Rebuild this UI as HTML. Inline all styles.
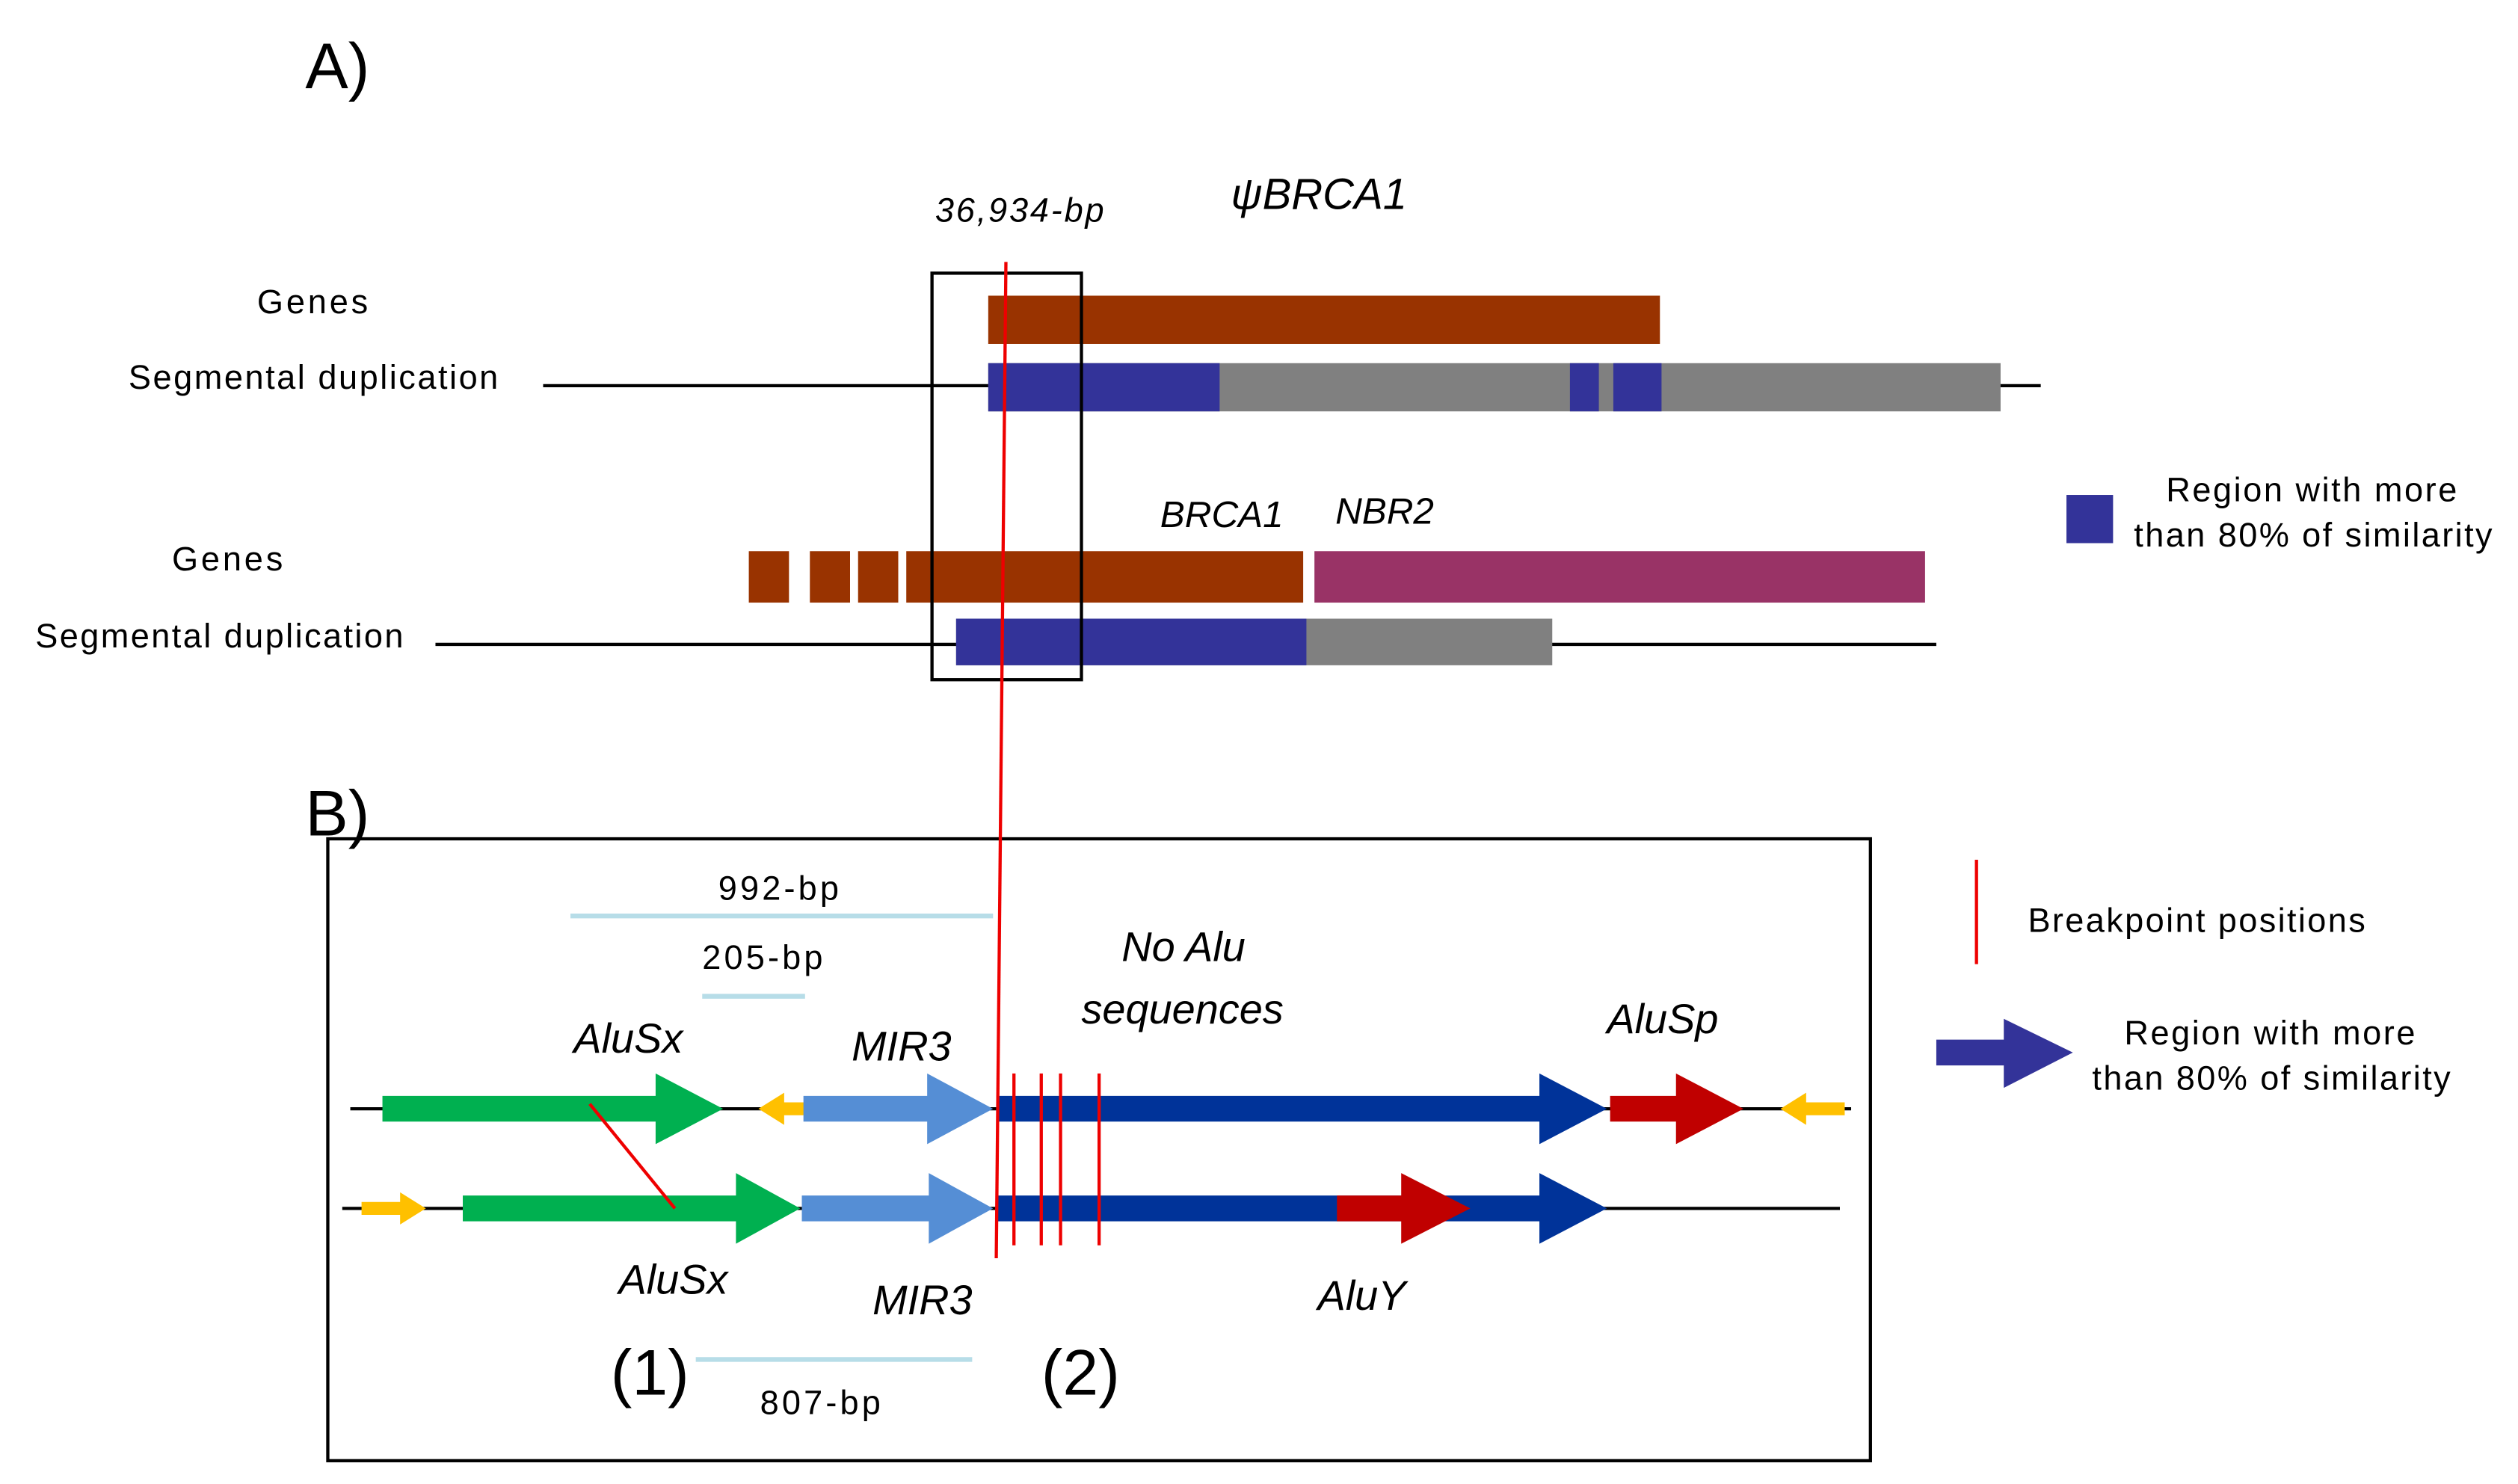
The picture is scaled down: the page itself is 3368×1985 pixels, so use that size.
<!DOCTYPE html>
<html><head><meta charset="utf-8"><style>html,body{margin:0;padding:0;background:#fff}svg{display:block}</style></head>
<body>
<svg width="3368" height="1985" viewBox="0 0 1567 923.5" preserveAspectRatio="none" xmlns="http://www.w3.org/2000/svg" font-family="Liberation Sans, sans-serif">
<rect width="1570" height="930" fill="#fff"/>
<text x="190" y="55" font-size="40">A)</text>
<text x="582" y="138" font-size="21" font-style="italic" textLength="105">36,934-bp</text>
<text x="766" y="130" font-size="27" font-style="italic">ψBRCA1</text>
<text x="160" y="195" font-size="21" textLength="69">Genes</text>
<text x="80" y="242" font-size="21" textLength="230">Segmental duplication</text>
<line x1="338" y1="240" x2="1270" y2="240" stroke="#000" stroke-width="2"/>
<rect x="615" y="184" width="418" height="30" fill="#993300"/>
<rect x="615" y="226" width="630" height="30" fill="#808080"/>
<rect x="615" y="226" width="144" height="30" fill="#333399"/>
<rect x="977" y="226" width="18" height="30" fill="#333399"/>
<rect x="1004" y="226" width="30" height="30" fill="#333399"/>
<text x="107" y="355" font-size="21" textLength="69">Genes</text>
<text x="22" y="403" font-size="21" textLength="229">Segmental duplication</text>
<text x="722" y="328" font-size="23" font-style="italic">BRCA1</text>
<text x="831" y="326" font-size="23" font-style="italic">NBR2</text>
<rect x="466" y="343" width="25" height="32" fill="#993300"/>
<rect x="504" y="343" width="25" height="32" fill="#993300"/>
<rect x="534" y="343" width="25" height="32" fill="#993300"/>
<rect x="564" y="343" width="247" height="32" fill="#993300"/>
<rect x="818" y="343" width="380" height="32" fill="#993366"/>
<line x1="271" y1="401" x2="1205" y2="401" stroke="#000" stroke-width="2"/>
<rect x="595" y="385" width="371" height="29" fill="#808080"/>
<rect x="595" y="385" width="218" height="29" fill="#333399"/>
<rect x="580" y="170" width="93" height="253" fill="none" stroke="#000" stroke-width="2"/>
<rect x="1286" y="308" width="29" height="30" fill="#333399"/>
<text x="1348" y="312" font-size="21" textLength="181">Region with more</text>
<text x="1328" y="340" font-size="21" textLength="223">than 80% of similarity</text>
<text x="190" y="520" font-size="40">B)</text>
<rect x="204" y="522" width="960" height="387" fill="none" stroke="#000" stroke-width="2"/>
<line x1="1230" y1="535" x2="1230" y2="600" stroke="#e00" stroke-width="2"/>
<text x="1262" y="580" font-size="21" textLength="210">Breakpoint positions</text>
<polygon points="1205,647 1247,647 1247,634 1290,655 1247,677 1247,663 1205,663" fill="#333399"/>
<text x="1322" y="650" font-size="21" textLength="181">Region with more</text>
<text x="1302" y="678" font-size="21" textLength="223">than 80% of similarity</text>
<text x="447" y="560" font-size="21" textLength="75">992-bp</text>
<line x1="355" y1="570" x2="618" y2="570" stroke="#b7dde8" stroke-width="3"/>
<text x="437" y="603" font-size="21" textLength="75">205-bp</text>
<line x1="437" y1="620" x2="501" y2="620" stroke="#b7dde8" stroke-width="3"/>
<text x="698" y="598" font-size="26" font-style="italic">No Alu</text>
<text x="673" y="637" font-size="26" font-style="italic">sequences</text>
<text x="357" y="655" font-size="26" font-style="italic">AluSx</text>
<text x="530" y="660" font-size="26" font-style="italic">MIR3</text>
<text x="1000" y="643" font-size="26" font-style="italic">AluSp</text>
<line x1="218" y1="690" x2="1152" y2="690" stroke="#000" stroke-width="2"/>
<polygon points="238,682 408,682 408,668 450,690 408,712 408,698 238,698" fill="#00b050"/>
<polygon points="512,686 488,686 488,680 472,690 488,700 488,694 512,694" fill="#ffc000"/>
<polygon points="500,682 577,682 577,668 618,690 577,712 577,698 500,698" fill="#558ed5"/>
<polygon points="620,682 958,682 958,668 1000,690 958,712 958,698 620,698" fill="#003399"/>
<polygon points="1002,682 1043,682 1043,668 1085,690 1043,712 1043,698 1002,698" fill="#c00000"/>
<polygon points="1148,686 1124,686 1124,680 1108,690 1124,700 1124,694 1148,694" fill="#ffc000"/>
<line x1="213" y1="752" x2="1145" y2="752" stroke="#000" stroke-width="2"/>
<polygon points="225,748 249,748 249,742 265,752 249,762 249,756 225,756" fill="#ffc000"/>
<polygon points="288,744 458,744 458,730 498,752 458,774 458,760 288,760" fill="#00b050"/>
<polygon points="499,744 578,744 578,730 618,752 578,774 578,760 499,760" fill="#558ed5"/>
<polygon points="620,744 958,744 958,730 1000,752 958,774 958,760 620,760" fill="#003399"/>
<polygon points="832,744 872,744 872,730 915,752 872,774 872,760 832,760" fill="#c00000"/>
<line x1="367" y1="687" x2="420" y2="752" stroke="#e00" stroke-width="2"/>
<line x1="626" y1="163" x2="620" y2="783" stroke="#e00" stroke-width="2"/>
<line x1="631" y1="668" x2="631" y2="775" stroke="#e00" stroke-width="2"/>
<line x1="648" y1="668" x2="648" y2="775" stroke="#e00" stroke-width="2"/>
<line x1="660" y1="668" x2="660" y2="775" stroke="#e00" stroke-width="2"/>
<line x1="684" y1="668" x2="684" y2="775" stroke="#e00" stroke-width="2"/>
<text x="385" y="805" font-size="26" font-style="italic">AluSx</text>
<text x="543" y="818" font-size="26" font-style="italic">MIR3</text>
<text x="820" y="815" font-size="26" font-style="italic">AluY</text>
<text x="380" y="868" font-size="40">(1)</text>
<text x="648" y="868" font-size="40">(2)</text>
<line x1="433" y1="846" x2="605" y2="846" stroke="#b7dde8" stroke-width="3"/>
<text x="473" y="880" font-size="21" textLength="75">807-bp</text>
</svg>
</body></html>
